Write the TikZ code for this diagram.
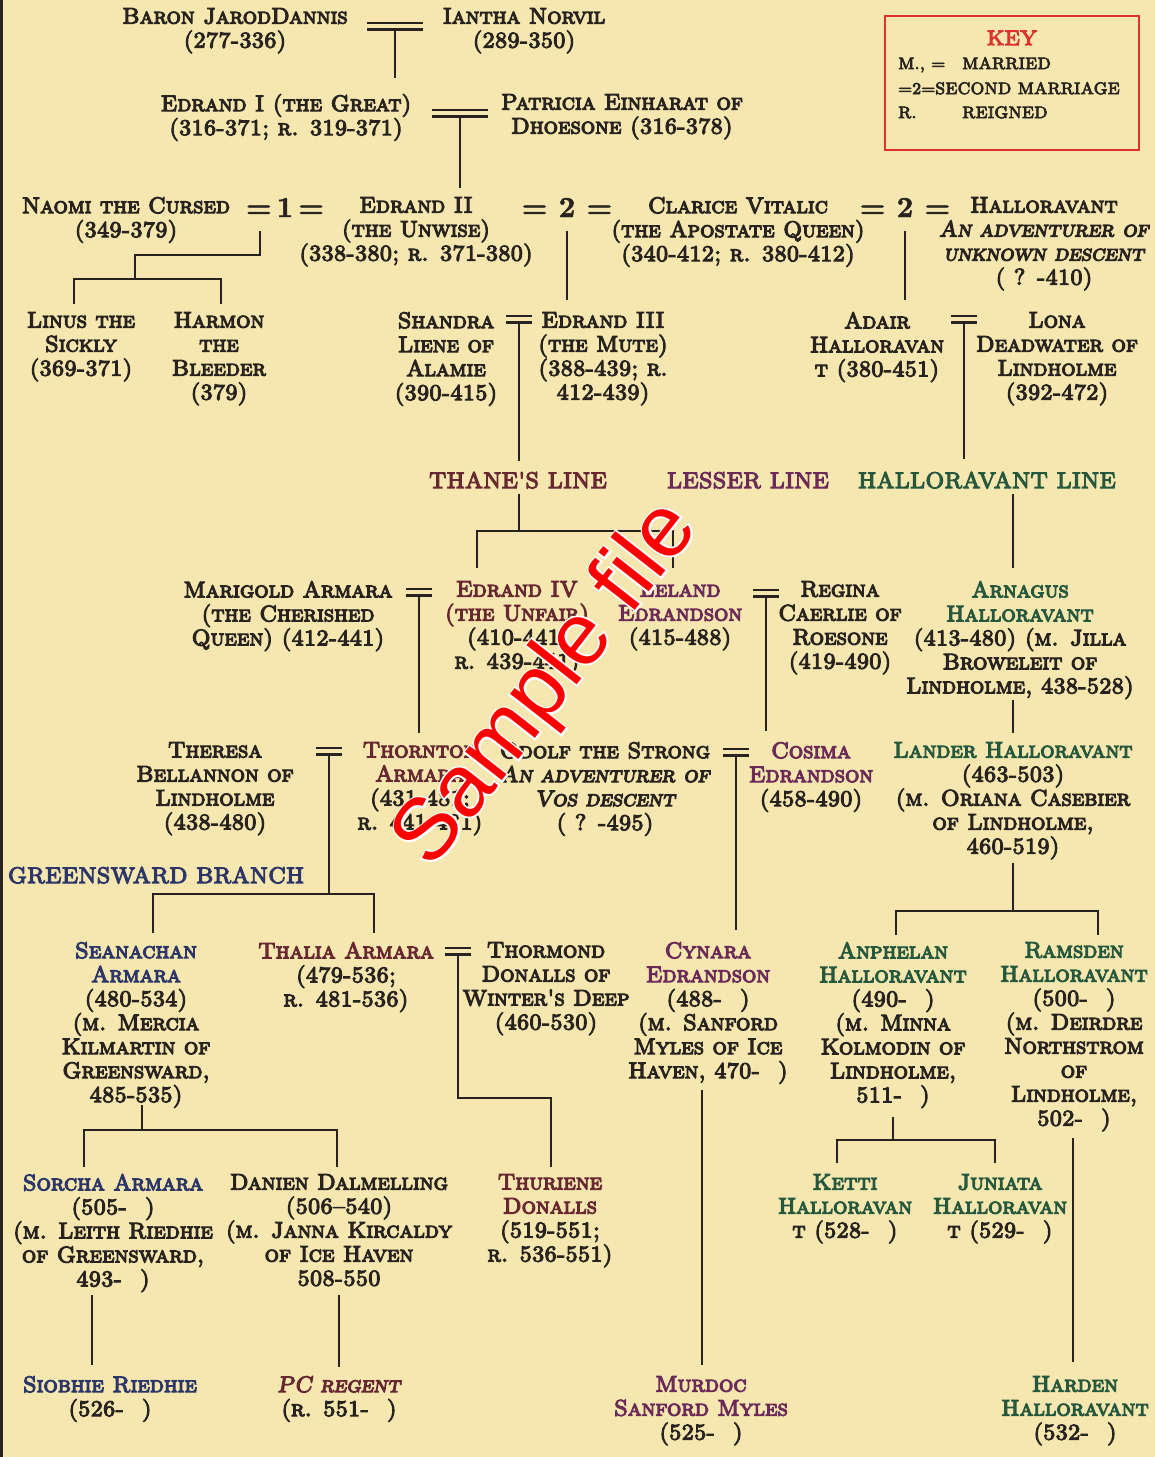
\documentclass[tikz,border=0pt]{standalone}
\usepackage{fontspec}
\newfontfamily\gs{lmromancaps10-regular.otf}[FakeBold=5]
\newfontfamily\gsi{lmromancaps10-oblique.otf}[FakeBold=5]
\newfontfamily\eqfont{lmroman10-bold.otf}[FakeBold=1.5]
\newfontfamily\wmfont{Liberation Sans}
\newfontfamily\wmfontw{Liberation Sans}[FakeBold=4]
\definecolor{bg}{RGB}{245,231,175}
\definecolor{ink}{RGB}{40,35,30}
\definecolor{thane}{RGB}{104,40,50}
\definecolor{lesser}{RGB}{108,42,88}
\definecolor{hallo}{RGB}{38,88,62}
\definecolor{gsw}{RGB}{44,54,104}
\definecolor{keyred}{RGB}{222,50,45}
\newcommand\cTh[1]{\textcolor{thane}{#1}}
\newcommand\cLe[1]{\textcolor{lesser}{#1}}
\newcommand\cHa[1]{\textcolor{hallo}{#1}}
\newcommand\cGr[1]{\textcolor{gsw}{#1}}
\newcommand\blank{\hspace{18pt}}
\tikzset{
  person/.style={anchor=north, align=center, inner sep=0pt, text=ink,
    font=\gs\fontsize{22.5}{24}\selectfont, execute at begin node={\vphantom{(}}},
  eqsign/.style={anchor=base, inner sep=0pt, text=ink, font=\eqfont\fontsize{29}{29}\selectfont},
  linetitle/.style={anchor=base, inner sep=0pt, font=\gs\fontsize{22.5}{24}\selectfont},
  keytext/.style={anchor=base west, inner sep=0pt, text=ink, font=\gs\fontsize{16.5}{20}\selectfont},
  conn/.style={draw=ink, line width=2.5pt, line join=miter},
}
\newcommand\marr[3]{%
  \draw[conn] (#1-#3,#2) -- (#1+#3,#2) (#1-#3,#2+6.5) -- (#1+#3,#2+6.5);}
\begin{document}
\begin{tikzpicture}[x=1pt,y=-1pt]
\useasboundingbox (0,0) rectangle (1155,1457);
\fill[bg] (0,0) rectangle (1155,1457);
\fill[ink] (0,0) rectangle (3,1457);

% ---------------- key
\node[draw=keyred, line width=2pt, minimum width=254pt, minimum height=134pt, inner sep=0pt, anchor=north west] (keybox) at (884,15) {};
\node[anchor=base, inner sep=0pt, text=keyred, font=\gs\fontsize{21}{22}\selectfont] (keytitle) at (1012,45) {KEY};
\node[keytext] (k1a) at (898,69) {M., =};
\node[keytext] (k1b) at (962,69) {MARRIED};
\node[keytext] (k2) at (898,94) {=2=SECOND MARRIAGE};
\node[keytext] (k3a) at (898,118) {R.};
\node[keytext] (k3b) at (962,118) {REIGNED};

% ---------------- people
\node[person] (jarod) at (235,8) {Baron JarodDannis\\(277-336)};
\node[person] (iantha) at (524,8) {Iantha Norvil\\(289-350)};
\node[person] (edrand1) at (286,94) {Edrand I (the Great)\\(316-371; r. 319-371)};
\node[person] (patricia) at (622,94) {Patricia Einharat of\\Dhoesone (316-378)};

\node[person] (naomi) at (126,197) {Naomi the Cursed\\(349-379)};
\node[eqsign] (eq1) at (285,217) {=\,1\,=};
\node[person] (edrand2) at (416,197) {Edrand II\\(the Unwise)\\(338-380; r. 371-380)};
\node[eqsign] (eq2) at (567,217) {= 2 =};
\node[person] (clarice) at (738,197) {Clarice Vitalic\\(the Apostate Queen)\\(340-412; r. 380-412)};
\node[eqsign] (eq3) at (905,217) {= 2 =};
\node[person] (hallo) at (1044,197) {Halloravant\\{\gsi An adventurer of}\\{\gsi unknown descent}\\( ? -410)};

\node[person] (linus) at (81,312) {Linus the\\Sickly\\(369-371)};
\node[person] (harmon) at (219,312) {Harmon\\the\\Bleeder\\(379)};
\node[person] (shandra) at (446,312) {Shandra\\Liene of\\Alamie\\(390-415)};
\node[person] (edrand3) at (603,312) {Edrand III\\(the Mute)\\(388-439; r.\\412-439)};
\node[person] (adair) at (877,312) {Adair\\Halloravan\\t (380-451)};
\node[person] (lona) at (1057,312) {Lona\\Deadwater of\\Lindholme\\(392-472)};

\node[linetitle, text=thane] (thaneline) at (518,488) {THANE'S LINE};
\node[linetitle, text=lesser] (lesserline) at (748,488) {LESSER LINE};
\node[linetitle, text=hallo] (halloline) at (987,488) {HALLORAVANT LINE};
\node[linetitle, text=gsw] (greenbranch) at (156,883) {GREENSWARD BRANCH};

\node[person] (marigold) at (288,581) {Marigold Armara\\(the Cherished\\Queen) (412-441)};
\node[person] (edrand4) at (517,581) {\cTh{Edrand IV}\\\cTh{(the Unfair)}\\(410-441;\\r. 439-441)};
\node[person] (leland) at (680,581) {\cLe{Leland}\\\cLe{Edrandson}\\(415-488)};
\node[person] (regina) at (840,581) {Regina\\Caerlie of\\Roesone\\(419-490)};
\node[person] (arnagus) at (1020,581) {\cHa{Arnagus}\\\cHa{Halloravant}\\(413-480) (m. Jilla\\Broweleit of\\Lindholme, 438-528)};

\node[person] (theresa) at (215,742) {Theresa\\Bellannon of\\Lindholme\\(438-480)};
\node[person] (thornton) at (420,742) {\cTh{Thornton}\\\cTh{Armara}\\(431-481;\\r. 441-481)};
\node[person] (odolf) at (605,742) {Odolf the Strong\\{\gsi An adventurer of}\\{\gsi Vos descent}\\( ? -495)};
\node[person] (cosima) at (811,742) {\cLe{Cosima}\\\cLe{Edrandson}\\(458-490)};
\node[person] (lander) at (1013,742) {\cHa{Lander Halloravant}\\(463-503)\\(m. Oriana Casebier\\of Lindholme,\\460-519)};

\node[person] (seanachan) at (136,942) {\cGr{Seanachan}\\\cGr{Armara}\\(480-534)\\(m. Mercia\\Kilmartin of\\Greensward,\\485-535)};
\node[person] (thalia) at (346,942) {\cTh{Thalia Armara}\\(479-536;\\r. 481-536)};
\node[person] (thormond) at (546,942) {Thormond\\Donalls of\\Winter's Deep\\(460-530)};
\node[person] (cynara) at (708,942) {\cLe{Cynara}\\\cLe{Edrandson}\\(488-\blank)\\(m. Sanford\\Myles of Ice\\Haven, 470-\blank)};
\node[person] (anphelan) at (893,942) {\cHa{Anphelan}\\\cHa{Halloravant}\\(490-\blank)\\(m. Minna\\Kolmodin of\\Lindholme,\\511-\blank)};
\node[person] (ramsden) at (1074,942) {\cHa{Ramsden}\\\cHa{Halloravant}\\(500-\blank)\\(m. Deirdre\\Northstrom\\of\\Lindholme,\\502-\blank)};

\node[person] (sorcha) at (113,1174) {\cGr{Sorcha Armara}\\(505-\blank)\\(m. Leith Riedhie\\of Greensward,\\493-\blank)};
\node[person] (danien) at (339,1174) {Danien Dalmelling\\(506–540)\\(m. Janna Kircaldy\\of Ice Haven\\508-550};
\node[person] (thuriene) at (550,1174) {\cTh{Thuriene}\\\cTh{Donalls}\\(519-551;\\r. 536-551)};
\node[person] (ketti) at (845,1174) {\cHa{Ketti}\\\cHa{Halloravan}\\t (528-\blank)};
\node[person] (juniata) at (1000,1174) {\cHa{Juniata}\\\cHa{Halloravan}\\t (529-\blank)};

\node[person] (siobhie) at (110,1376) {\cGr{Siobhie Riedhie}\\(526-\blank)};
\node[person] (pcregent) at (339,1376) {\cTh{\gsi PC regent}\\(r. 551-\blank)};
\node[person] (murdoc) at (701,1376) {\cLe{Murdoc}\\\cLe{Sanford Myles}\\(525-\blank)};
\node[person] (harden) at (1075,1376) {\cHa{Harden}\\\cHa{Halloravant}\\(532-\blank)};

% ---------------- marriages
\marr{395}{23}{28}
\marr{460}{110}{28}
\marr{519}{316}{13}
\marr{964}{316}{13}
\marr{419}{589}{13}
\marr{766}{590}{13}
\marr{329}{748}{13}
\marr{736}{749}{13}
\marr{458}{948}{13}

% ---------------- descent lines
\draw[conn] (395,29.5) -- (395,78);
\draw[conn] (460,116.5) -- (460,188);
\draw[conn] (260,231) -- (260,255) -- (135,255) -- (135,279);
\draw[conn] (74,304) -- (74,279) -- (221,279) -- (221,304);
\draw[conn] (567,231) -- (567,300);
\draw[conn] (905,231) -- (905,300);
\draw[conn] (519,322.5) -- (519,461);
\draw[conn] (964,322.5) -- (964,459);
\draw[conn] (519,494) -- (519,531);
\draw[conn] (477,568) -- (477,531) -- (673,531) -- (673,568);
\draw[conn] (1013,494) -- (1013,568);
\draw[conn] (419,595.5) -- (419,733);
\draw[conn] (766,596.5) -- (766,731);
\draw[conn] (1013,700) -- (1013,733);
\draw[conn] (329,754.5) -- (329,894);
\draw[conn] (153,933) -- (153,894) -- (374,894) -- (374,933);
\draw[conn] (736,755.5) -- (736,930);
\draw[conn] (1013,863) -- (1013,911);
\draw[conn] (896,935) -- (896,911) -- (1098,911) -- (1098,935);
\draw[conn] (458,954.5) -- (458,1098) -- (551,1098) -- (551,1167);
\draw[conn] (702,1090) -- (702,1365);
\draw[conn] (893,1117) -- (893,1140);
\draw[conn] (837,1163) -- (837,1140) -- (995,1140) -- (995,1163);
\draw[conn] (1073,1138) -- (1073,1362);
\draw[conn] (142,1105) -- (142,1130);
\draw[conn] (84,1167) -- (84,1130) -- (337,1130) -- (337,1167);
\draw[conn] (92,1295) -- (92,1365);
\draw[conn] (339,1295) -- (339,1367);

% ---------------- watermark
\node[rotate=52, inner sep=0pt, text=white, font=\wmfontw\fontsize{88}{88}\selectfont] (wmback) at (548,685) {Sample file};
\node[rotate=52, inner sep=0pt, text=red, font=\wmfont\fontsize{88}{88}\selectfont] (wm) at (548,685) {Sample file};
\end{tikzpicture}
\end{document}
